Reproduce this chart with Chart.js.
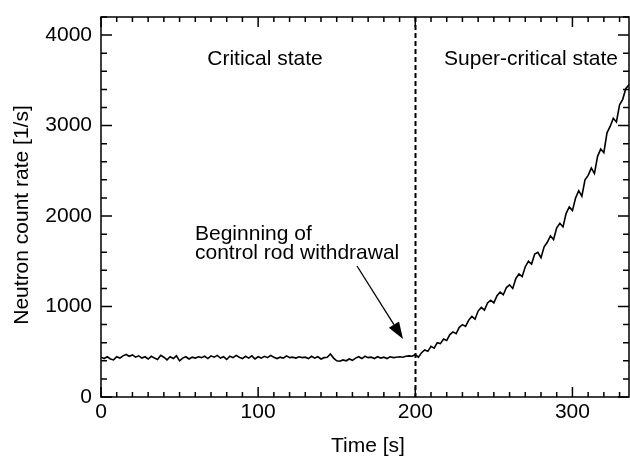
<!DOCTYPE html>
<html>
<head>
<meta charset="utf-8">
<script src="https://cdn.jsdelivr.net/npm/chart.js@4/dist/chart.umd.min.js"></script>
<style>
  html, body { margin: 0; padding: 0; background: #fff; }
  canvas { display: block; }
</style>
</head>
<body>
<canvas id="rateChart" width="630" height="459"></canvas>
<script>
// Contagem de neutrons, uma amostra a cada 2 s a partir de t = 0
const sampleStep = 2;
const countRate = [
  440, 425, 445, 420, 410, 445, 430, 455, 470, 450,
  465, 440, 455, 430, 445, 420, 450, 430, 415, 460,
  440, 410, 445, 425, 455, 400, 430, 445, 420, 440,
  430, 445, 435, 450, 425, 455, 440, 460, 430, 445,
  415, 450, 435, 460, 440, 425, 450, 430, 455, 420,
  445, 430, 450, 435, 460, 440, 425, 440, 430, 455,
  435, 440, 430, 445, 435, 440, 425, 450, 430, 445,
  420, 435, 440, 475, 430, 400, 395, 410, 400, 420,
  405, 430, 445, 425, 450, 435, 440, 425, 445, 430,
  440, 425, 445, 435, 440, 445, 440, 450, 455, 450,
  // t = 200 s: início da retirada da barra de controle
  470, 440, 490, 520, 505, 560, 540, 600, 590, 640,
  625, 690, 720, 700, 770, 800, 780, 850, 890, 860,
  950, 990, 960, 1040, 1070, 1040, 1120, 1160, 1130, 1210,
  1240, 1200, 1310, 1360, 1330, 1440, 1500, 1470, 1580, 1600,
  1540, 1660, 1710, 1780, 1740, 1870, 1920, 1880, 2030, 2100,
  2060, 2200, 2280, 2220, 2400, 2450, 2530, 2470, 2660, 2740,
  2700, 2920, 2990, 3080, 3040, 3230, 3290, 3410, 3450
];

const xTicks = [0, 100, 200, 300];
const yTicks = [0, 1000, 2000, 3000, 4000];
const xMinorStep = 10;
const yMinorStep = 200;
const withdrawalTime = 200;

const FONT = '21px "Liberation Sans", Arial, sans-serif';

// Moldura, marcas internas, rótulos e anotações
const framePlugin = {
  id: 'frame',
  beforeDatasetsDraw(chart) {
    const { ctx, chartArea: a, scales: { x } } = chart;
    const px = Math.round(x.getPixelForValue(withdrawalTime)) + 0.5;
    ctx.save();
    ctx.strokeStyle = '#000';
    ctx.lineWidth = 2;
    ctx.setLineDash([5, 3]);
    ctx.beginPath();
    ctx.moveTo(px, a.top);
    ctx.lineTo(px, a.bottom);
    ctx.stroke();
    ctx.restore();
  },
  afterDraw(chart) {
    const { ctx, chartArea: a, scales: { x, y } } = chart;
    ctx.save();
    ctx.strokeStyle = '#000';
    ctx.fillStyle = '#000';
    ctx.lineWidth = 1.5;
    ctx.setLineDash([]);

    ctx.strokeRect(a.left, a.top, a.right - a.left, a.bottom - a.top);

    // marcas no eixo x (embaixo e em cima)
    ctx.beginPath();
    for (let v = x.min; v <= x.max; v += xMinorStep) {
      const px = x.getPixelForValue(v);
      const len = xTicks.includes(v) ? 10 : 5;
      ctx.moveTo(px, a.bottom); ctx.lineTo(px, a.bottom - len);
      ctx.moveTo(px, a.top); ctx.lineTo(px, a.top + len);
    }
    // marcas no eixo y (esquerda e direita)
    for (let v = y.min; v <= y.max; v += yMinorStep) {
      const py = y.getPixelForValue(v);
      const len = yTicks.includes(v) ? 11 : 6;
      ctx.moveTo(a.left, py); ctx.lineTo(a.left + len, py);
      ctx.moveTo(a.right, py); ctx.lineTo(a.right - len, py);
    }
    ctx.stroke();

    ctx.font = FONT;
    ctx.textBaseline = 'middle';
    ctx.textAlign = 'center';
    xTicks.forEach(v => ctx.fillText(String(v), x.getPixelForValue(v), a.bottom + 15));
    ctx.textAlign = 'right';
    yTicks.forEach(v => ctx.fillText(String(v), a.left - 9, y.getPixelForValue(v)));

    // títulos dos eixos
    ctx.textAlign = 'center';
    ctx.fillText('Time [s]', 368, 446);
    ctx.save();
    ctx.translate(22, (a.top + a.bottom) / 2 + 8);
    ctx.rotate(-Math.PI / 2);
    ctx.fillText('Neutron count rate [1/s]', 0, 0);
    ctx.restore();

    // regiões
    ctx.fillText('Critical state', 265, 59);
    ctx.fillText('Super-critical state', 531, 59);

    ctx.textAlign = 'left';
    ctx.fillText('Beginning of', 195, 234);
    ctx.fillText('control rod withdrawal', 195, 253);

    // seta até o ponto de retirada
    const x0 = 357, y0 = 266, x1 = 403, y1 = 339;
    const ang = Math.atan2(y1 - y0, x1 - x0);
    const headLen = 17, headW = 6;
    const bx = x1 - headLen * Math.cos(ang), by = y1 - headLen * Math.sin(ang);
    ctx.lineWidth = 1.3;
    ctx.beginPath();
    ctx.moveTo(x0, y0);
    ctx.lineTo(bx, by);
    ctx.stroke();
    ctx.beginPath();
    ctx.moveTo(x1, y1);
    ctx.lineTo(bx + headW * Math.sin(ang), by - headW * Math.cos(ang));
    ctx.lineTo(bx - headW * Math.sin(ang), by + headW * Math.cos(ang));
    ctx.closePath();
    ctx.fill();

    ctx.restore();
  }
};

const ctxRate = document.getElementById('rateChart').getContext('2d');
new Chart(ctxRate, {
  type: 'line',
  data: {
    datasets: [{
      data: countRate.map((v, i) => ({ x: i * sampleStep, y: v })),
      borderColor: '#000',
      borderWidth: 1.6,
      pointRadius: 0,
      fill: false,
      tension: 0
    }]
  },
  options: {
    responsive: false,
    animation: false,
    devicePixelRatio: 1,
    layout: { padding: { left: 101, top: 17, right: 1, bottom: 62 } },
    scales: {
      x: { type: 'linear', min: 0, max: 336, display: false },
      y: { type: 'linear', min: 0, max: 4200, display: false }
    },
    plugins: {
      legend: { display: false },
      tooltip: { enabled: false }
    }
  },
  plugins: [framePlugin]
});
</script>
</body>
</html>
